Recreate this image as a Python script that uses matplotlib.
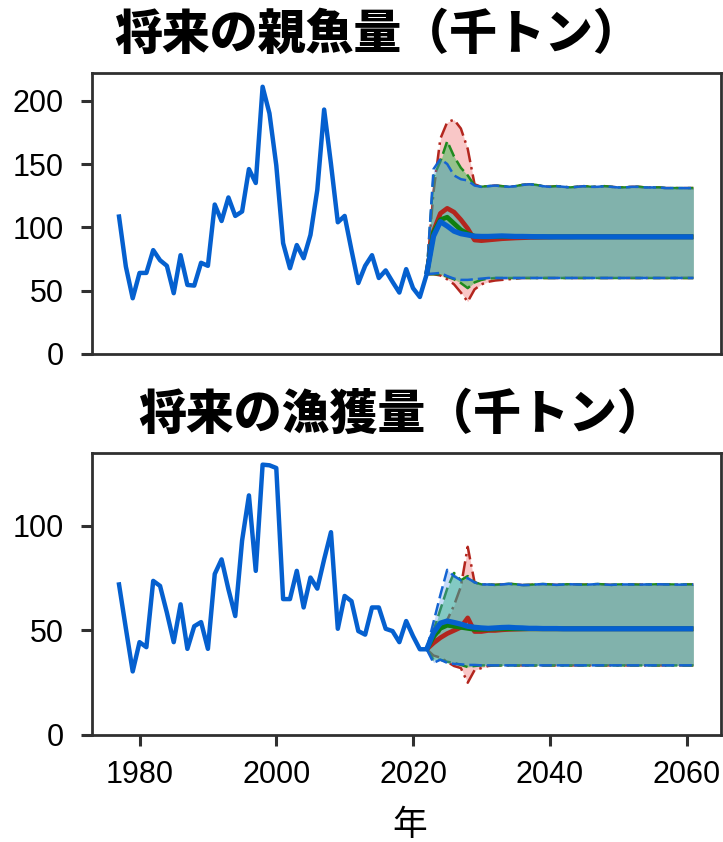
import matplotlib
matplotlib.use('Agg')
import matplotlib.pyplot as plt

plt.rcParams['font.family'] = ['Liberation Sans', 'Noto Sans CJK JP', 'DejaVu Sans']

# ---------------- data ----------------
years_hist = list(range(1977, 2023))
ssb_hist = [108.5, 69, 44, 64, 64, 82, 74, 69.6, 48, 78,
            54.5, 54, 72, 69.6, 118, 105, 123.6, 109, 112.5, 146,
            135, 211, 190, 149, 87.5, 67.7, 86, 75.6, 94, 129.6,
            193, 150, 104, 109, 82, 56, 69.6, 78, 60, 66,
            57, 48.5, 67, 52, 45, 63]
catch_hist = [72, 51, 30.4, 44.4, 42, 73.7, 71.3, 58.5, 44.4, 62.5,
              41.2, 52, 54, 41.2, 77, 84, 69.7, 56.9, 93, 114.6,
              78.5, 129.3, 129, 127.7, 65, 65, 78.5, 61, 75.3, 70,
              84, 97, 50.8, 66.5, 64, 49.7, 48, 61, 61, 50.8,
              49.7, 44.4, 54.5, 47.3, 41, 41]

years_proj = list(range(2022, 2062))

# 将来の親魚量 (three scenarios: red, green, blue)
ssb_med_red = [63, 97, 111, 115, 112, 106, 99, 90, 89.5, 90,
               90.5, 91, 91.3, 91.6, 91.8, 92, 92.1, 92.2, 92.3, 92.4,
               92.4, 92.4, 92.5, 92.5, 92.5, 92.5, 92.5, 92.5, 92.5, 92.5,
               92.5, 92.5, 92.5, 92.5, 92.5, 92.5, 92.5, 92.5, 92.5, 92.5]
ssb_med_green = [63, 96, 106, 108, 103, 98, 95, 93, 92.5, 92.5,
                 92.7, 92.8, 92.8, 92.7, 92.6, 92.6, 92.5, 92.5, 92.5, 92.5,
                 92.5, 92.5, 92.5, 92.5, 92.5, 92.5, 92.5, 92.5, 92.5, 92.5,
                 92.5, 92.5, 92.5, 92.5, 92.5, 92.5, 92.5, 92.5, 92.5, 92.5]
ssb_med_blue = [63, 93, 104.5, 101, 97, 95, 94, 93, 92.8, 92.8,
                93, 93.2, 93, 92.8, 92.8, 92.7, 92.6, 92.6, 92.5, 92.5,
                92.5, 92.5, 92.5, 92.5, 92.5, 92.5, 92.5, 92.5, 92.5, 92.5,
                92.5, 92.5, 92.5, 92.5, 92.5, 92.5, 92.5, 92.5, 92.5, 92.5]
ssb_hi_red = [63, 128, 170, 183, 185, 178, 162, 134, 132, 132.5,
              133, 132.5, 132, 132.5, 133.5, 134, 133.5, 132.5, 132, 132.5,
              132, 131.5, 132, 132.5, 132, 132, 132.5, 132, 131.5, 131.5,
              132, 132, 131.5, 131.5, 131.5, 131, 131, 131, 131, 131]
ssb_hi_green = [63, 140, 152, 168, 156, 147, 141, 133, 132, 132.5,
                133, 132.5, 132, 132.5, 133.5, 134, 133.5, 132.5, 132, 132.5,
                132, 131.5, 132, 132.5, 132, 132, 132.5, 132, 131.5, 131.5,
                132, 132, 131.5, 131.5, 131.5, 131, 131, 131, 131, 131]
ssb_hi_blue = [63, 146, 154, 150, 141, 138, 137, 133, 132, 132.5,
               133, 132.5, 132, 132.5, 133.5, 134, 133.5, 132.5, 132, 132.5,
               132, 131.5, 132, 132.5, 132, 132, 132.5, 132, 131.5, 131.5,
               132, 132, 131.5, 131.5, 131.5, 131, 131, 131, 131, 131]
ssb_lo_red = [63, 63, 62, 59, 55, 48.5, 41.3, 51, 55, 57,
              58, 58.5, 59, 59.5, 60, 60, 60, 60, 60, 60,
              60, 60, 60, 60, 60, 60, 60, 60, 60, 60,
              60, 60, 60, 60, 60, 60, 60, 60, 60, 60]
ssb_lo_green = [63, 63, 63, 61, 59, 56, 52, 56.5, 58.5, 59.5,
                60, 60, 60, 60, 60, 60, 60, 60, 60, 60,
                60, 60, 60, 60, 60, 60, 60, 60, 60, 60,
                60, 60, 60, 60, 60, 60, 60, 60, 60, 60]
ssb_lo_blue = [63, 63.5, 64, 61.5, 59.5, 58.5, 58.5, 59, 59.5, 60,
               60, 60, 60, 60, 60, 60, 60, 60, 60, 60,
               60, 60, 60, 60, 60, 60, 60, 60, 60, 60,
               60, 60, 60, 60, 60, 60, 60, 60, 60, 60]

# 将来の漁獲量
catch_med_red = [41, 44, 46.5, 48.5, 50, 51.5, 56, 49.5, 49.5, 50,
                 50, 50.3, 50.5, 50.6, 50.7, 50.8, 50.8, 50.8, 50.8, 50.8,
                 50.8, 50.8, 50.8, 50.8, 50.8, 50.8, 50.8, 50.8, 50.8, 50.8,
                 50.8, 50.8, 50.8, 50.8, 50.8, 50.8, 50.8, 50.8, 50.8, 50.8]
catch_med_green = [41, 47, 51, 52.5, 52, 51.5, 51, 50.5, 50.5, 50.6,
                   50.7, 50.8, 50.8, 50.8, 50.8, 50.8, 50.8, 50.8, 50.8, 50.8,
                   50.8, 50.8, 50.8, 50.8, 50.8, 50.8, 50.8, 50.8, 50.8, 50.8,
                   50.8, 50.8, 50.8, 50.8, 50.8, 50.8, 50.8, 50.8, 50.8, 50.8]
catch_med_blue = [41, 49, 53.5, 54.5, 53.8, 53, 52, 51.5, 51.2, 51,
                  51.2, 51.4, 51.5, 51.3, 51.2, 51, 51, 50.9, 50.9, 50.9,
                  50.8, 50.8, 50.8, 50.8, 50.8, 50.8, 50.8, 50.8, 50.8, 50.8,
                  50.8, 50.8, 50.8, 50.8, 50.8, 50.8, 50.8, 50.8, 50.8, 50.8]
catch_hi_red = [41, 45.5, 50, 55, 62, 71, 90, 73, 72, 72,
                71.8, 72, 72.3, 72.1, 71.7, 71.8, 72, 72.2, 72, 71.8,
                72, 72.1, 72, 71.9, 72, 72.2, 72, 71.8, 72, 72,
                72, 71.9, 72, 72, 72.1, 72, 72, 71.9, 72, 72]
catch_hi_green = [41, 50, 60, 70, 77.5, 74, 76, 73, 72, 72,
                  71.8, 72, 72.3, 72.1, 71.7, 71.8, 72, 72.2, 72, 71.8,
                  72, 72.1, 72, 71.9, 72, 72.2, 72, 71.8, 72, 72,
                  72, 71.9, 72, 72, 72.1, 72, 72, 71.9, 72, 72]
catch_hi_blue = [41, 54, 67, 79, 76, 74, 75, 73, 72, 72,
                 71.8, 72, 72.3, 72.1, 71.7, 71.8, 72, 72.2, 72, 71.8,
                 72, 72.1, 72, 71.9, 72, 72.2, 72, 71.8, 72, 72,
                 72, 71.9, 72, 72, 72.1, 72, 72, 71.9, 72, 72]
catch_lo_red = [41, 38, 37, 35, 33, 32, 25, 31, 32, 33,
                33.3, 33.3, 33.3, 33.3, 33.3, 33.3, 33.3, 33.3, 33.3, 33.3,
                33.3, 33.3, 33.3, 33.3, 33.3, 33.3, 33.3, 33.3, 33.3, 33.3,
                33.3, 33.3, 33.3, 33.3, 33.3, 33.3, 33.3, 33.3, 33.3, 33.3]
catch_lo_green = [41, 36, 36, 35, 34.5, 33.5, 32.5, 33, 33.3, 33.3,
                  33.3, 33.3, 33.3, 33.3, 33.3, 33.3, 33.3, 33.3, 33.3, 33.3,
                  33.3, 33.3, 33.3, 33.3, 33.3, 33.3, 33.3, 33.3, 33.3, 33.3,
                  33.3, 33.3, 33.3, 33.3, 33.3, 33.3, 33.3, 33.3, 33.3, 33.3]
catch_lo_blue = [41, 34.5, 36, 34.5, 34, 33.8, 33.5, 33.5, 33.3, 33.3,
                 33.3, 33.3, 33.3, 33.3, 33.3, 33.3, 33.3, 33.3, 33.3, 33.3,
                 33.3, 33.3, 33.3, 33.3, 33.3, 33.3, 33.3, 33.3, 33.3, 33.3,
                 33.3, 33.3, 33.3, 33.3, 33.3, 33.3, 33.3, 33.3, 33.3, 33.3]

x_ticks = [1980, 2000, 2020, 2040, 2060]
ssb_ticks = [0, 50, 100, 150, 200]
catch_ticks = [0, 50, 100]
title_ssb = '将来の親魚量（千トン）'
title_catch = '将来の漁獲量（千トン）'
xlabel = '年'

# ---------------- styles ----------------
HIST_C = '#0560cf'
scen = {
    'red':   dict(fill=(0.91, 0.0, 0.0, 0.22), line='#b3261e', ls=(0, (6, 2, 1, 2))),
    'green': dict(fill=(0.0, 0.73, 0.2, 0.40), line='#1f8a1f', ls=(0, (5, 2))),
    'blue':  dict(fill=(0.35, 0.59, 0.94, 0.33), line='#1464d2', ls=(0, (5, 2))),
}
med_c = {'red': '#b3261e', 'green': '#0f7f0f', 'blue': '#0560cf'}
BOX_C = '#303030'

fig = plt.figure(figsize=(7.23, 8.42), dpi=100)
ax1 = fig.add_axes([0.1268, 0.5796, 0.8700, 0.3333])
ax2 = fig.add_axes([0.1268, 0.1271, 0.8700, 0.3352])


def draw(ax, hist, bands, meds, ylim, yticks):
    for key in ['red', 'green', 'blue']:
        lo, hi = bands[key]
        st = scen[key]
        ax.fill_between(years_proj, lo, hi, color=st['fill'], lw=0, zorder=2)
        ax.plot(years_proj, hi, color=st['line'], lw=1.8, ls=st['ls'], zorder=2)
        ax.plot(years_proj, lo, color=st['line'], lw=1.8, ls=st['ls'], zorder=2)
    for key in ['red', 'green', 'blue']:
        ax.plot(years_proj, meds[key], color=med_c[key],
                lw=3.8 if key == 'blue' else 3.4, zorder=3, solid_capstyle='butt')
    ax.plot(years_hist, hist, color=HIST_C, lw=3.2, zorder=4)
    ax.set_xlim(1973, 2065)
    ax.set_ylim(*ylim)
    ax.set_yticks(yticks)
    ax.set_yticklabels([str(t) for t in yticks])
    for s in ax.spines.values():
        s.set_color(BOX_C)
        s.set_linewidth(2.0)
    ax.tick_params(axis='both', direction='out', length=8, width=2.2,
                   color=BOX_C, labelsize=22)
    ax.tick_params(axis='y', pad=12)
    ax.tick_params(axis='x', pad=10)


draw(ax1, ssb_hist,
     {'red': (ssb_lo_red, ssb_hi_red), 'green': (ssb_lo_green, ssb_hi_green),
      'blue': (ssb_lo_blue, ssb_hi_blue)},
     {'red': ssb_med_red, 'green': ssb_med_green, 'blue': ssb_med_blue},
     (0, 221.6), ssb_ticks)
draw(ax2, catch_hist,
     {'red': (catch_lo_red, catch_hi_red), 'green': (catch_lo_green, catch_hi_green),
      'blue': (catch_lo_blue, catch_hi_blue)},
     {'red': catch_med_red, 'green': catch_med_green, 'blue': catch_med_blue},
     (0, 135), catch_ticks)

ax1.set_xticks([])
ax2.set_xticks(x_ticks)
ax2.set_xticklabels([str(t) for t in x_ticks])

fig.text(0.522, 0.959, title_ssb, ha='center', va='center', fontsize=34.5,
         fontweight='heavy', family=['Noto Sans CJK JP'])
fig.text(0.556, 0.507, title_catch, ha='center', va='center', fontsize=34.5,
         fontweight='heavy', family=['Noto Sans CJK JP'])
fig.text(0.567, 0.020, xlabel, ha='center', va='center', fontsize=25,
         family=['Noto Sans CJK JP'])

fig.savefig('out.png', dpi=100)
